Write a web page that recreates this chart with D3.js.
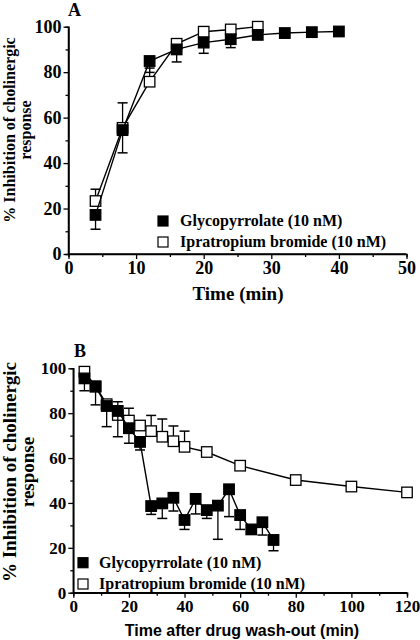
<!DOCTYPE html>
<html><head><meta charset="utf-8">
<script src="https://cdn.jsdelivr.net/npm/d3@7"></script>
<style>body{margin:0;background:#fff}svg{display:block}</style>
</head><body>
<svg id="c" width="420" height="640"></svg>
<script>
// Panel A data
const timeA_glyco = [4, 8, 12, 16, 20, 24, 28, 32, 36, 40];
const valA_glyco  = [17.2, 54.5, 84.9, 90, 93, 94.5, 96.4, 97.2, 97.6, 97.9];
const errA_glyco  = [6.3, 10, 5, 5.5, 4.7, 3.7, 1, 0, 0, 0];
const timeA_ipra  = [4, 8, 12, 16, 20, 24, 28];
const valA_ipra   = [23.3, 55.5, 75.8, 92.5, 97.8, 98.8, 100];
const errA_ipra   = [5.2, 11, 6, 1.7, 2.2, 1, 0];
// Panel B data
const timeB_glyco = [4, 8, 12, 16, 20, 24, 28, 32, 36, 40, 44, 48, 52, 56, 60, 64, 68, 72];
const valB_glyco  = [95.5, 91.8, 83.2, 81, 73.3, 67.2, 38.6, 39.8, 42.3, 32.4, 41.8, 36.8, 38.8, 46.1, 34.6, 28.2, 31.4, 23.5];
const errB_glyco  = [5.5, 8.1, 9.2, 11.5, 6.7, 3.6, 3.7, 6.7, 5.9, 4.2, 6.7, 3.7, 15, 12.2, 6.4, 0, 5.7, 4.8];
const timeB_ipra  = [4, 8, 12, 16, 20, 24, 28, 32, 36, 40, 48, 60, 80, 100, 120];
const valB_ipra   = [98.5, 92, 84, 79.2, 76.7, 74.5, 72, 69.5, 67.5, 65, 62.7, 56.6, 50.2, 47.3, 44.7];
const errB_ipra   = [0, 0, 0, 5.9, 5.5, 0, 7, 7.9, 6.8, 7, 0, 0, 0, 0, 0];
// Ticks / labels
const ticksY = [0, 20, 40, 60, 80, 100];
const minorY = [10, 30, 50, 70, 90];
const ticksXA = [0, 10, 20, 30, 40, 50];
const minorXA = [5, 15, 25, 35, 45];
const ticksXB = [0, 20, 40, 60, 80, 100, 120];
const minorXB = [10, 30, 50, 70, 90, 110];
const seriesNames = ["Glycopyrrolate (10 nM)", "Ipratropium bromide (10 nM)"];

const svg = d3.select("#c");
const serif = "'Liberation Serif', 'Times New Roman', serif";
const sans = "'Liberation Sans', Arial, sans-serif";

function panel(o) {
  const g = svg.append("g");
  const x = d3.scaleLinear().domain(o.xDom).range(o.xRange);
  const y = d3.scaleLinear().domain([0, 100]).range(o.yRange);
  const ax = g.append("g").attr("transform", `translate(0,${o.yRange[0]})`)
    .call(d3.axisBottom(x).tickValues(o.ticksX).tickSize(5).tickPadding(2).tickFormat(d3.format("d")));
  g.append("g").attr("transform", `translate(0,${o.yRange[0]})`)
    .call(d3.axisBottom(x).tickValues(o.minorX).tickSize(3).tickFormat(""));
  const ay = g.append("g").attr("transform", `translate(${o.xRange[0]},0)`)
    .call(d3.axisLeft(y).tickValues(ticksY).tickSize(5).tickPadding(2).tickFormat(d3.format("d")));
  g.append("g").attr("transform", `translate(${o.xRange[0]},0)`)
    .call(d3.axisLeft(y).tickValues(minorY).tickSize(3).tickFormat(""));
  g.selectAll(".domain").attr("stroke", "#000").attr("stroke-width", 1.5);
  g.selectAll(".tick line").attr("stroke", "#000").attr("stroke-width", 1.3);
  g.selectAll(".tick text").style("font-family", serif).style("font-weight", "bold")
    .style("font-size", o.tickFs + "px").attr("fill", "#000");
  ax.select(".domain").attr("d", `M${o.xRange[0]},0H${o.xRange[1]}`);
  ay.select(".domain").attr("d", `M0,${o.yRange[0]}V${o.yRange[1]}`);

  const line = d3.line().x(d => x(d.t)).y(d => y(d.v));
  const series = [
    {t: o.ti, v: o.vi, e: o.ei, fill: "#fff", dir: 1},
    {t: o.tg, v: o.vg, e: o.eg, fill: "#000", dir: -1}
  ];
  const cap = 5, sq = 10.5;
  series.forEach(s => {
    const data = s.t.map((t, i) => ({t, v: s.v[i], e: s.e[i]}));
    g.append("path").datum(data).attr("d", line).attr("fill", "none")
      .attr("stroke", "#000").attr("stroke-width", 1.4);
    const eb = g.append("g");
    data.filter(d => d.e > 0).forEach(d => {
      const y1 = y(d.v + s.dir * d.e);
      eb.append("line").attr("x1", x(d.t)).attr("x2", x(d.t)).attr("y1", y(d.v)).attr("y2", y1)
        .attr("stroke", "#000").attr("stroke-width", 1.3);
      eb.append("line").attr("x1", x(d.t) - cap).attr("x2", x(d.t) + cap).attr("y1", y1).attr("y2", y1)
        .attr("stroke", "#000").attr("stroke-width", 1.5);
    });
    g.append("g").selectAll("rect").data(data).join("rect")
      .attr("x", d => x(d.t) - sq / 2).attr("y", d => y(d.v) - sq / 2)
      .attr("width", sq).attr("height", sq)
      .attr("fill", s.fill).attr("stroke", "#000").attr("stroke-width", 1.3);
  });
  const lg = g.append("g");
  seriesNames.forEach((n, i) => {
    const ly = o.legY[i];
    lg.append("rect").attr("x", o.legX - 5).attr("y", ly - 5).attr("width", 10).attr("height", 10)
      .attr("fill", i === 0 ? "#000" : "#fff").attr("stroke", "#000").attr("stroke-width", 1.2);
    lg.append("text").attr("x", o.legTx).attr("y", ly + 5).text(n)
      .style("font-family", serif).style("font-weight", "bold").style("font-size", o.legFs + "px");
  });
  g.append("text").attr("x", o.xTitleX).attr("y", o.xTitleY).attr("text-anchor", "middle")
    .text(o.xTitle).style("font-family", o.xTitleFont).style("font-weight", "bold").style("font-size", o.xTitleFs + "px");
  const yl = g.append("text").attr("transform", `translate(${o.yTitleX},${o.yTitleY}) rotate(-90)`)
    .attr("text-anchor", "middle").style("font-family", serif).style("font-weight", "bold").style("font-size", o.yTitleFs + "px");
  yl.append("tspan").attr("x", 0).attr("dy", 0).text("% Inhibition of cholinergic");
  yl.append("tspan").attr("x", 0).attr("dy", o.yTitleDy).text("response");
  g.append("text").attr("x", o.letterX).attr("y", o.letterY).text(o.letter)
    .style("font-family", serif).style("font-weight", "bold").style("font-size", "18px");
}

panel({
  xDom: [0, 50], xRange: [68.5, 406.5], yRange: [254, 26.7],
  ticksX: ticksXA, minorX: minorXA, tickFs: 18,
  tg: timeA_glyco, vg: valA_glyco, eg: errA_glyco,
  ti: timeA_ipra, vi: valA_ipra, ei: errA_ipra,
  legX: 163, legTx: 180, legY: [221, 242], legFs: 16,
  xTitle: "Time (min)", xTitleX: 238, xTitleY: 300, xTitleFont: serif, xTitleFs: 19,
  yTitleX: 15, yTitleY: 130, yTitleFs: 16, yTitleDy: 16,
  letter: "A", letterX: 68, letterY: 16
});
panel({
  xDom: [0, 120], xRange: [73.3, 407], yRange: [592.7, 368.3],
  ticksX: ticksXB, minorX: minorXB, tickFs: 17,
  tg: timeB_glyco, vg: valB_glyco, eg: errB_glyco,
  ti: timeB_ipra, vi: valB_ipra, ei: errB_ipra,
  legX: 83, legTx: 99, legY: [562.7, 584], legFs: 16,
  xTitle: "Time after drug wash-out (min)", xTitleX: 242, xTitleY: 636, xTitleFont: sans, xTitleFs: 16,
  yTitleX: 16, yTitleY: 472, yTitleFs: 19, yTitleDy: 18,
  letter: "B", letterX: 74, letterY: 357
});
</script>
</body></html>
